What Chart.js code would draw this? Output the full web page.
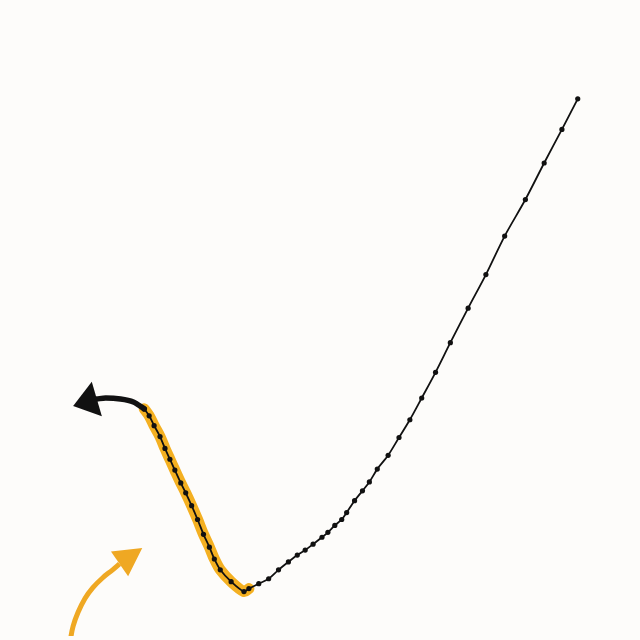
<!DOCTYPE html>
<html>
<head>
<meta charset="utf-8">
<script src="https://cdn.jsdelivr.net/npm/chart.js@4"></script>
<style>
  html, body { margin: 0; padding: 0; background: #fdfcfa; }
  #wrap { width: 640px; height: 640px; position: relative; }
</style>
</head>
<body>
<div id="wrap"><canvas id="c"></canvas></div>
<script>
// Connected path (x, y) in data units, from the upper-right start to the turning point
const pathX = [58.1,56.5,54.7,52.8,50.7,48.8,47.0,45.2,43.7,42.3,41.1,40.0,38.9,37.8,37.0,36.3,35.5,34.7,34.2,33.5,32.8,32.2,31.3,30.5,29.7,28.8,27.8,26.8,25.8,24.8,24.3,23.0,21.9,21.3,20.8,20.2,19.6,19.0,18.4,17.9,17.3,16.8,16.3,15.8,15.2,14.7,14.2];
const pathY = [54.4,51.3,47.9,44.2,40.5,36.6,33.2,29.7,26.7,24.1,21.9,20.1,18.3,16.9,15.6,14.7,13.7,12.5,11.8,11.2,10.5,10.0,9.3,8.7,8.2,7.5,6.7,5.8,5.3,4.8,4.5,5.5,6.7,7.8,9.0,10.3,11.8,13.2,14.5,15.5,16.8,17.9,19.0,20.2,21.3,22.3,23.0];
// Index where the highlighted stretch begins (runs to the end of the path)
const highlightStart = 29;
// Final bold stretch leading into the arrow
const tailX = [14.2,13.1,11.8,10.3,9.4];
const tailY = [23.0,23.7,24.0,24.1,24.0];
const tailArrowTip = [7.0, 23.3];
// Curved pointer arrow at lower left
const pointerX = [6.7,7.0,7.5,8.2,9.0,10.0,11.0,11.7];
const pointerY = [-0.5,1.0,2.4,3.8,4.9,5.9,6.7,7.3];
const pointerArrowTip = [14.0, 8.9];

const X_MIN = 0, X_MAX = 64, Y_MIN = 0, Y_MAX = 64;

const toPts = (xs, ys) => xs.map((x, i) => ({ x, y: ys[i] }));
const mainPts = toPts(pathX, pathY);
const highlightPts = mainPts.slice(highlightStart);
const tailPts = toPts(tailX, tailY);
const pointerPts = toPts(pointerX, pointerY);

const BLACK = '#111111';
const ORANGE = '#EFA823';
const HIGHLIGHT = '#F4B021';

const arrowHeads = {
  id: 'arrowHeads',
  afterDatasetsDraw(chart) {
    const { ctx, scales: { x, y } } = chart;
    const heads = [
      { from: tailPts[tailPts.length - 1], tip: { x: tailArrowTip[0], y: tailArrowTip[1] }, half: 18, color: BLACK },
      { from: pointerPts[pointerPts.length - 1], tip: { x: pointerArrowTip[0], y: pointerArrowTip[1] }, half: 15, color: ORANGE }
    ];
    heads.forEach(h => {
      const bx = x.getPixelForValue(h.from.x), by = y.getPixelForValue(h.from.y);
      const tx = x.getPixelForValue(h.tip.x), ty = y.getPixelForValue(h.tip.y);
      const dx = tx - bx, dy = ty - by, len = Math.hypot(dx, dy);
      const nx = -dy / len, ny = dx / len;
      ctx.save();
      ctx.fillStyle = h.color;
      ctx.beginPath();
      ctx.moveTo(tx, ty);
      ctx.lineTo(bx + nx * h.half, by + ny * h.half);
      ctx.lineTo(bx - nx * h.half, by - ny * h.half);
      ctx.closePath();
      ctx.fill();
      ctx.restore();
    });
  }
};

new Chart(document.getElementById('c'), {
  type: 'scatter',
  data: {
    datasets: [
      { data: mainPts, showLine: true, borderColor: BLACK, borderWidth: 1.8, tension: 0.3,
        pointRadius: 2.6, pointBackgroundColor: BLACK, pointBorderWidth: 0, order: 0 },
      { data: tailPts, showLine: true, borderColor: BLACK, borderWidth: 5.5,
        pointRadius: 0, tension: 0.3, borderCapStyle: 'round', order: 1 },
      { data: highlightPts, showLine: true, borderColor: HIGHLIGHT, borderWidth: 11, tension: 0.3,
        pointRadius: 0, borderCapStyle: 'round', borderJoinStyle: 'round', order: 2 },
      { data: pointerPts, showLine: true, borderColor: ORANGE, borderWidth: 5,
        pointRadius: 0, tension: 0.4, order: 3 }
    ]
  },
  options: {
    responsive: true,
    maintainAspectRatio: false,
    animation: false,
    layout: { padding: 0 },
    plugins: { legend: { display: false }, tooltip: { enabled: false } },
    scales: {
      x: { type: 'linear', min: X_MIN, max: X_MAX, display: false },
      y: { type: 'linear', min: Y_MIN, max: Y_MAX, display: false }
    }
  },
  plugins: [arrowHeads]
});
</script>
</body>
</html>
